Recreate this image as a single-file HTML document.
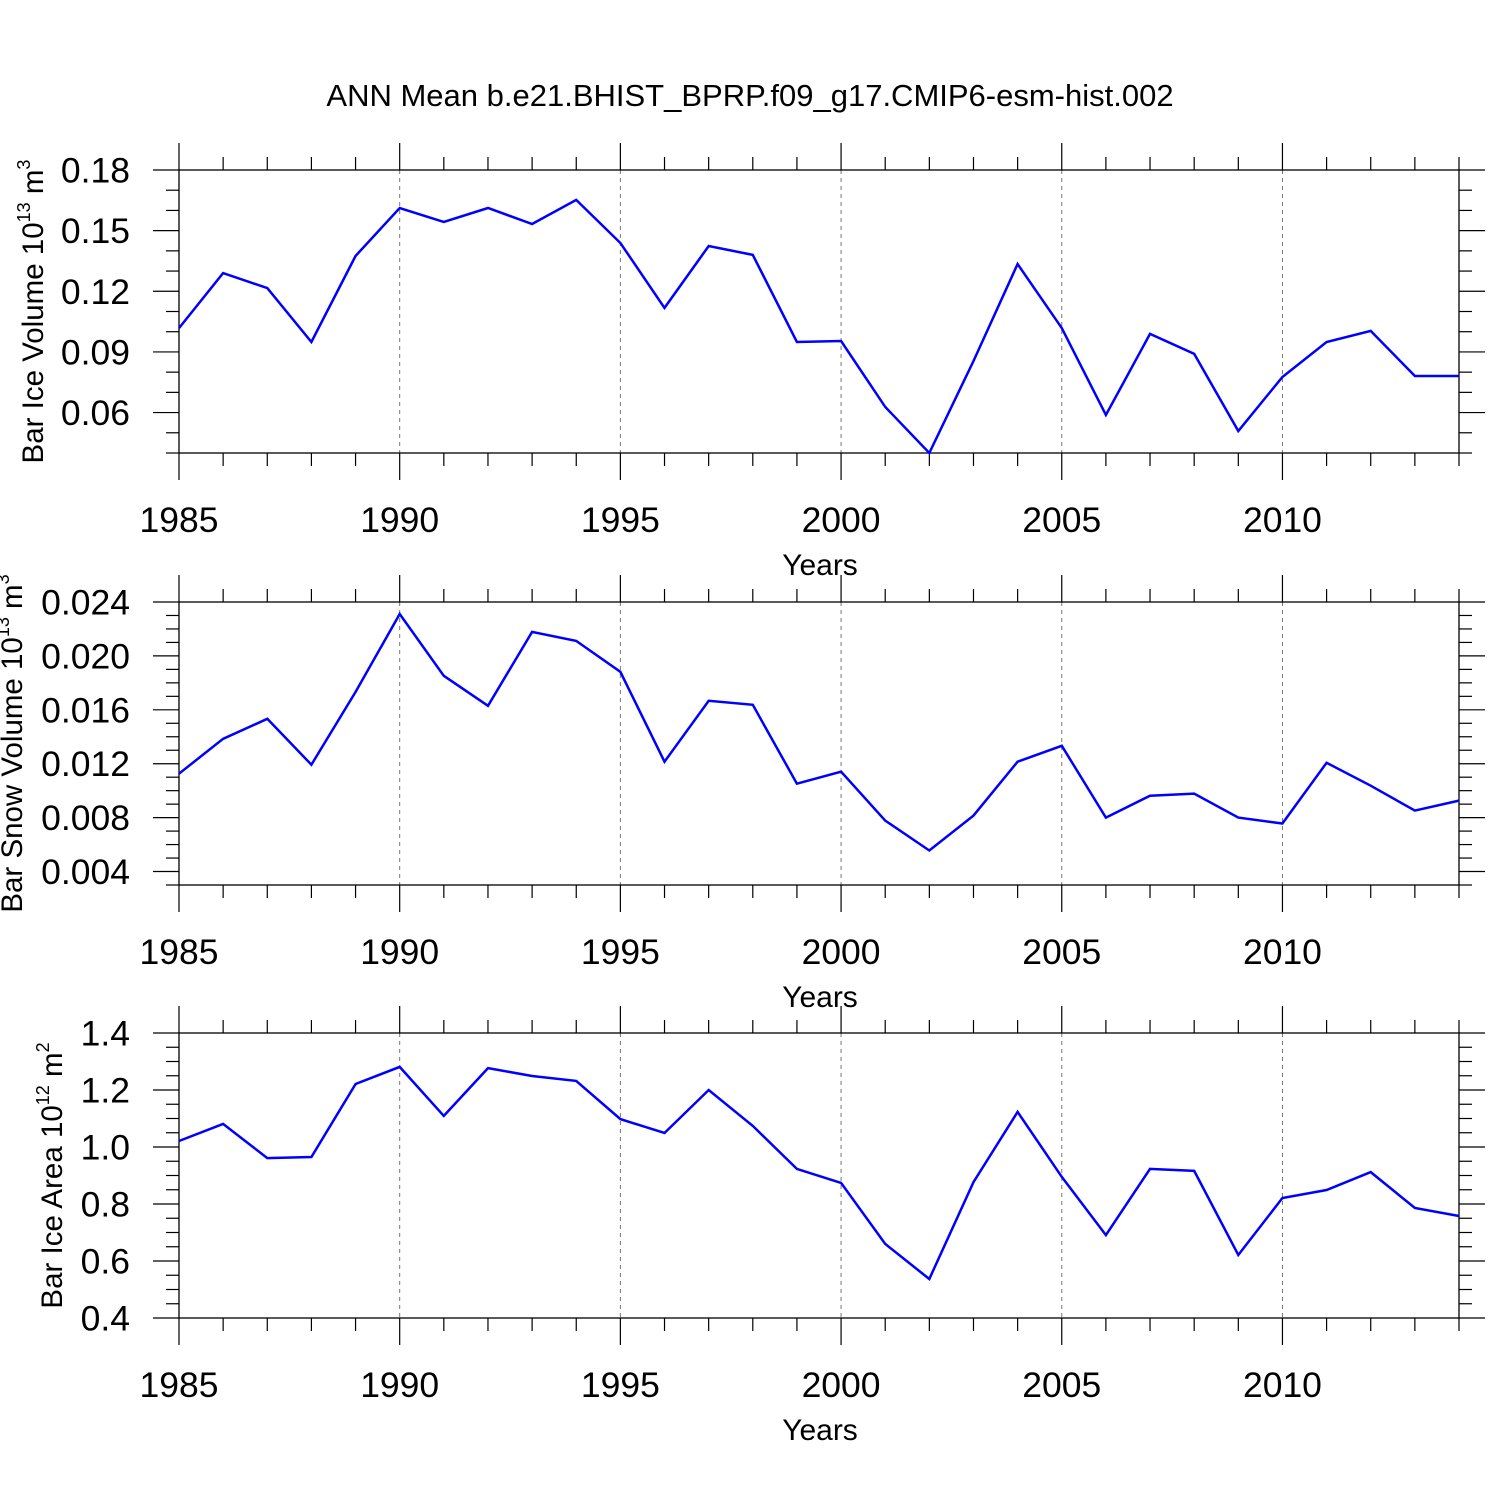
<!DOCTYPE html>
<html><head><meta charset="utf-8"><style>
html,body{margin:0;padding:0;background:#fff;}
svg{display:block;font-family:"Liberation Sans",sans-serif;}
</style></head><body>
<svg id="chart" width="1500" height="1500" viewBox="0 0 1500 1500" xmlns="http://www.w3.org/2000/svg">
<rect width="1500" height="1500" fill="#fff"/>
<text x="750" y="106" font-size="31" text-anchor="middle">ANN Mean b.e21.BHIST_BPRP.f09_g17.CMIP6-esm-hist.002</text>
</svg>
<script>
const years = [1985,1986,1987,1988,1989,1990,1991,1992,1993,1994,1995,1996,1997,1998,1999,2000,2001,2002,2003,2004,2005,2006,2007,2008,2009,2010,2011,2012,2013,2014];
const iceVolume = [0.1018,0.129,0.1216,0.0949,0.1375,0.1612,0.1543,0.1612,0.1533,0.1652,0.1439,0.1118,0.1424,0.138,0.0949,0.0954,0.0628,0.040,0.0855,0.1335,0.1018,0.0588,0.0989,0.089,0.0509,0.0776,0.0949,0.1004,0.0781,0.0781];
const snowVolume = [0.01126,0.01385,0.01533,0.01193,0.01733,0.02311,0.01852,0.0163,0.02178,0.02111,0.01881,0.01215,0.01667,0.01637,0.01052,0.01141,0.00778,0.00556,0.00815,0.01215,0.01333,0.008,0.00963,0.00978,0.008,0.00756,0.01207,0.01037,0.00852,0.00926];
const iceArea = [1.021,1.081,0.961,0.965,1.221,1.281,1.109,1.277,1.249,1.232,1.098,1.049,1.2,1.074,0.923,0.874,0.66,0.537,0.877,1.123,0.895,0.691,0.923,0.916,0.621,0.821,0.849,0.912,0.786,0.758];
const xTickLabels = ["1985","1990","1995","2000","2005","2010"];
const iceVolTicks = ["0.06","0.09","0.12","0.15","0.18"];
const snowTicks = ["0.004","0.008","0.012","0.016","0.020","0.024"];
const areaTicks = ["0.4","0.6","0.8","1.0","1.2","1.4"];

const NS="http://www.w3.org/2000/svg";
const svg=document.getElementById('chart');
function mk(tag,attrs,parent){const e=document.createElementNS(NS,tag);for(const k in attrs)e.setAttribute(k,attrs[k]);(parent||svg).appendChild(e);return e;}
const X0=179,X1=1459,XMIN=1985,XMAX=2014;
function xs(v){return X0+(v-XMIN)/(XMAX-XMIN)*(X1-X0);}

function panel(cfg){
  const g=mk('g',{});
  
  
  const T=cfg.top,B=cfg.bottom;
  const ys=v=>B-(v-cfg.min)/(cfg.max-cfg.min)*(B-T);
  for(const lab of xTickLabels){const yr=+lab;if(yr===XMIN)continue;
    const l=mk('line',{x1:xs(yr),x2:xs(yr),y1:T,y2:B,stroke:'#777','stroke-width':1,'stroke-dasharray':'4,4'},g);
    
    }
  for(let yr=XMIN;yr<=XMAX;yr++){const maj=(yr%5===0);const L=maj?27:13;const x=xs(yr);
    mk('line',{x1:x,x2:x,y1:B,y2:B+L,stroke:'#000','stroke-width':1.2},g);
    mk('line',{x1:x,x2:x,y1:T,y2:T-L,stroke:'#000','stroke-width':1.2},g);}
  for(const lab of xTickLabels){const t=mk('text',{x:xs(+lab),y:B+79,'font-size':35.5,'text-anchor':'middle'},g);t.textContent=lab;
    
    }
  for(let v=cfg.min;v<=cfg.max+1e-9;v+=cfg.minor){const y=ys(v);
    const maj=cfg.ticks.some(s=>Math.abs(+s-v)<cfg.minor/10);const L=maj?26:13;
    mk('line',{x1:X0-L,x2:X0,y1:y,y2:y,stroke:'#000','stroke-width':1.2},g);
    mk('line',{x1:X1,x2:X1+L,y1:y,y2:y,stroke:'#000','stroke-width':1.2},g);}
  for(const lab of cfg.ticks){const t=mk('text',{x:130,y:ys(+lab)+12.5,'font-size':35.5,'text-anchor':'end'},g);t.textContent=lab;
    
    }
  const fr=mk('rect',{x:X0,y:T,width:X1-X0,height:B-T,fill:'none',stroke:'#000','stroke-width':1.3},g);
  
  
  const pts=years.map((yr,i)=>xs(yr).toFixed(1)+','+ys(cfg.data[i]).toFixed(1)).join(' ');
  const pl=mk('polyline',{points:pts,fill:'none',stroke:'#0000ff','stroke-width':2.5,'stroke-linejoin':'miter'},g);
  
  
  const xt=mk('text',{x:820,y:B+122,'font-size':30,'text-anchor':'middle'},g);xt.textContent='Years';
  
  
  const yt=mk('text',{transform:`translate(${cfg.ytx},${(T+B)/2}) rotate(-90)`,'font-size':29.5,'text-anchor':'middle'},g);
  yt.innerHTML=cfg.ylabel;
  
  
}
panel({name:'ice-volume-panel',top:170,bottom:453,min:0.04,max:0.18,minor:0.01,ticks:iceVolTicks,data:iceVolume,ytx:43,
  ylabel:'Bar Ice Volume 10<tspan dy="-13" font-size="18">13</tspan><tspan dy="13"> m</tspan><tspan dy="-13" font-size="18">3</tspan>'});
panel({name:'snow-volume-panel',top:602,bottom:885,min:0.003,max:0.024,minor:0.001,ticks:snowTicks,data:snowVolume,ytx:22,
  ylabel:'Bar Snow Volume 10<tspan dy="-13" font-size="18">13</tspan><tspan dy="13"> m</tspan><tspan dy="-13" font-size="18">3</tspan>'});
panel({name:'ice-area-panel',top:1033,bottom:1318,min:0.4,max:1.4,minor:0.05,ticks:areaTicks,data:iceArea,ytx:62,
  ylabel:'Bar Ice Area 10<tspan dy="-13" font-size="18">12</tspan><tspan dy="13"> m</tspan><tspan dy="-13" font-size="18">2</tspan>'});
</script>
</body></html>
